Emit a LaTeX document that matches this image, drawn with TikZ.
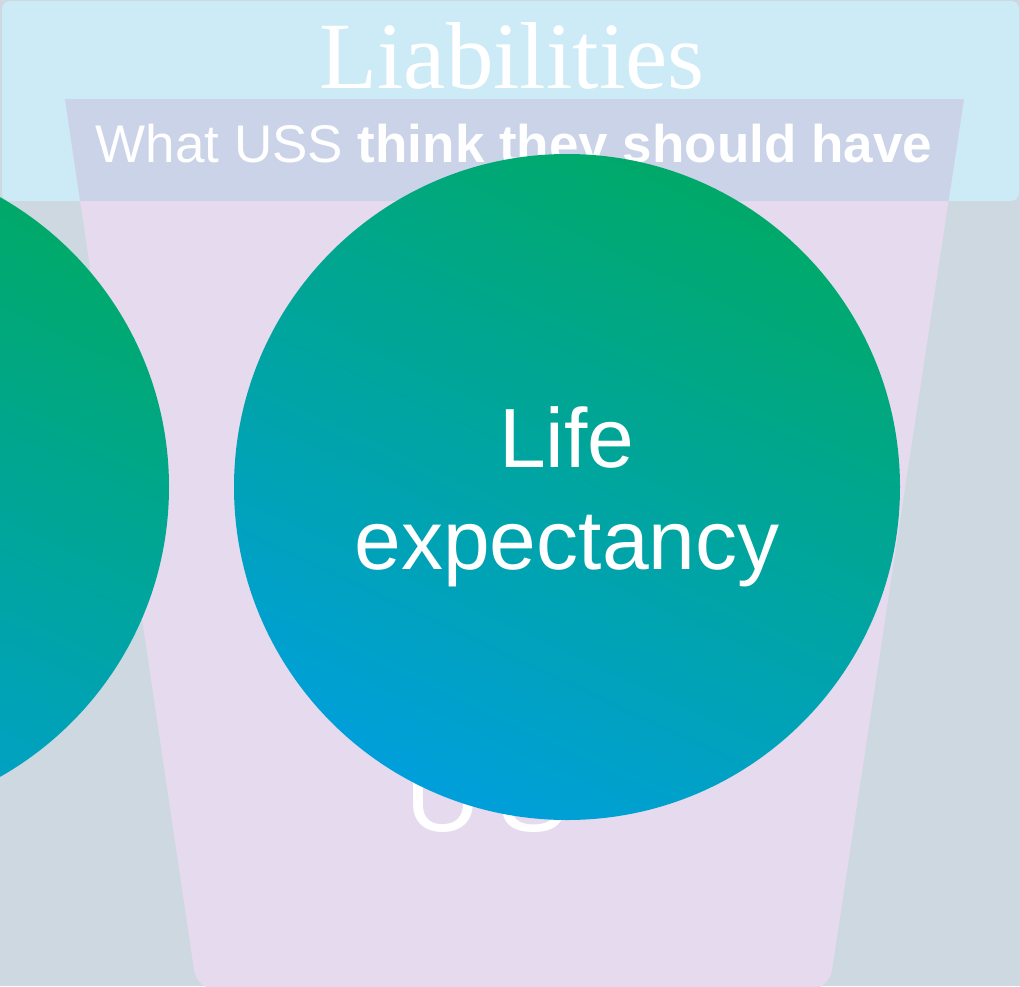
\documentclass[tikz,border=0pt]{standalone}
\usepackage{fontspec}
\setmainfont{Liberation Serif}
\setsansfont{Liberation Sans}
\usepackage{xcolor}
\usepackage{tikz}

\definecolor{bggrey}{HTML}{CDD8E0}
\definecolor{bandcyan}{HTML}{CCEBF7}
\definecolor{cuplilac}{HTML}{E6DAEE}
\definecolor{cupband}{HTML}{CBD3E8}
\definecolor{ussgreen}{HTML}{00AB58}
\definecolor{ussblue}{HTML}{009FDB}
\pgfdeclareverticalshading{ussfade}{100bp}{color(0bp)=(ussblue); color(25bp)=(ussblue); color(82bp)=(ussgreen); color(100bp)=(ussgreen)}

\begin{document}
\begin{tikzpicture}[x=1pt, y=-1pt,
        every node/.style={text=white, inner sep=0pt},
        bubble/.style={circle, minimum size=666pt, shading=ussfade, shading angle=-25},
        bubbletext/.style={align=center, font=\sffamily\fontsize{84}{102}\selectfont}]

    \useasboundingbox (0,0) rectangle (1020,986);
    \fill[bggrey] (0,0) rectangle (1020,986);
    \fill[bandcyan, rounded corners=8pt] (2,1) rectangle (1019,201);

    \begin{scope}
        \clip (0,99) rectangle (1020,990);
        \fill[cuplilac, rounded corners=20pt] (59.2,60) -- (969.9,60) -- (829,990) -- (197,990) -- cycle;
    \end{scope}
    \begin{scope}
        \clip[rounded corners=8pt] (2,1) rectangle (1019,201);
        \fill[cupband] (65,99) -- (964,99) -- (829,990) -- (197,990) -- cycle;
    \end{scope}

    \node[font=\fontsize{95}{95}\selectfont, anchor=base] (title) at (512,88) {Liabilities};
    \node[font=\sffamily\fontsize{53}{53}\selectfont, anchor=base] (subtitle) at (514,162)
        {What USS \textbf{think they should have}};
    \node[font=\sffamily\fontsize{105}{105}\selectfont, anchor=base west] (hidden) at (405,831) {U\kern18pt S};

    \node[bubble] (left) at (-164,487) {};
    \node[bubble] (life) at (567,487) {};
    \node[bubbletext] (lifetext) at ([yshift=-10pt]life.center) {Life\\expectancy};
\end{tikzpicture}
\end{document}
